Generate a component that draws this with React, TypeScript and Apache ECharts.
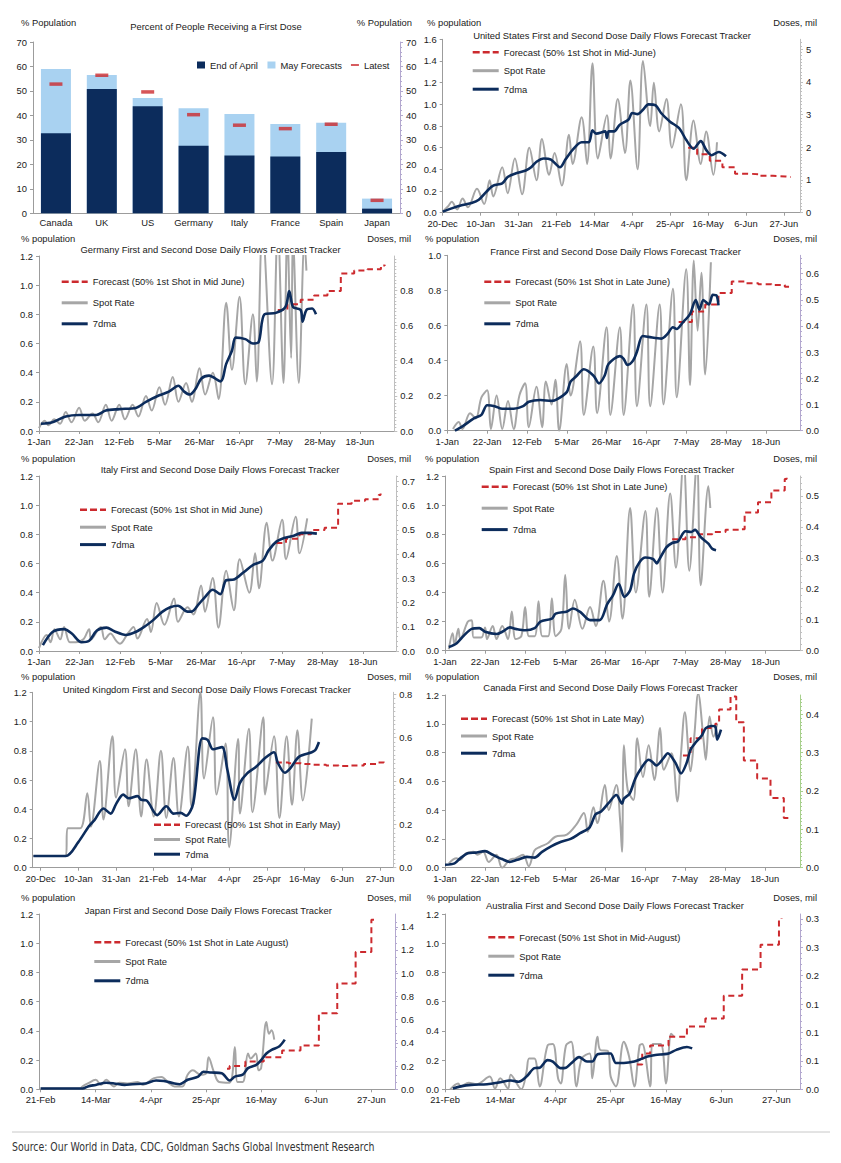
import React, { useEffect, useRef } from "react";
import * as echarts from "echarts";

const FONT = "'Liberation Sans', Arial, Helvetica, sans-serif";
const FS = 9.4;
const TXT = "#1a1a1a";
const NAVY = "#0c2c5c";
const LIGHT = "#a9d2f1";
const RED = "#cc2a2e";
const GRAY = "#a6a6a6";
const AXIS = "#9c9c9c";

// ---------- Bar chart data ----------
const barCountries = ["Canada", "UK", "US", "Germany", "Italy", "France", "Spain", "Japan"];
const barEndOfApril = [32.7, 50.8, 43.7, 27.6, 23.6, 23.2, 25.1, 1.9];
const barMayForecast = [59.0, 56.5, 47.1, 42.9, 40.6, 36.5, 37.0, 6.0];
const barLatest = [52.8, 56.4, 49.6, 40.3, 36.0, 34.6, 36.4, 5.3];

// ---------- Tick labels ----------
const ticksDec20 = ["20-Dec", "10-Jan", "31-Jan", "21-Feb", "14-Mar", "4-Apr", "25-Apr", "16-May", "6-Jun", "27-Jun"];
const ticksJan1 = ["1-Jan", "22-Jan", "12-Feb", "5-Mar", "26-Mar", "16-Apr", "7-May", "28-May", "18-Jun"];
const ticksFeb21 = ["21-Feb", "14-Mar", "4-Apr", "25-Apr", "16-May", "6-Jun", "27-Jun"];

const usRight = [0, 1, 2, 3, 4, 5];
const deRight = [0, 0.2, 0.4, 0.6, 0.8];
const frRight = [0, 0.1, 0.2, 0.3, 0.4, 0.5, 0.6];
const itRight = [0, 0.1, 0.2, 0.3, 0.4, 0.5, 0.6, 0.7];
const esRight = [0, 0.1, 0.2, 0.3, 0.4, 0.5];
const ukRight = [0, 0.2, 0.4, 0.6, 0.8];
const caRight = [0, 0.1, 0.2, 0.3, 0.4];
const jpRight = [0, 0.2, 0.4, 0.6, 0.8, 1.0, 1.2, 1.4];
const auRight = [0, 0.05, 0.1, 0.15, 0.2, 0.25, 0.3];

// ---------- United States (day 0 = 20-Dec) ----------
const usSpot = [[0,0.01],[3,0.06],[5,0.10],[8,0.03],[11,0.13],[14,0.05],[19,0.22],[23,0.08],[26,0.30],[28,0.15],[33,0.42],[36,0.18],[40,0.50],[44,0.17],[48,0.60],[52,0.30],[55,0.68],[59,0.35],[62,0.55],[66,0.25],[70,0.72],[72,0.45],[77,0.88],[80,0.45],[83,1.38],[86,0.50],[91,0.90],[93,0.50],[97,1.05],[101,0.55],[104,1.22],[108,0.40],[111,1.40],[115,0.80],[117,1.20],[120,0.75],[124,1.05],[127,0.60],[132,1.00],[135,0.30],[139,0.85],[143,0.45],[146,0.75],[150,0.35],[152,0.65]];
const usMa = [[0,0.01],[5,0.04],[11,0.07],[16,0.09],[20,0.12],[24,0.19],[28,0.25],[33,0.27],[36,0.33],[40,0.36],[46,0.39],[49,0.42],[52,0.47],[56,0.50],[60,0.49],[65,0.42],[68,0.49],[72,0.58],[77,0.65],[81,0.65],[83,0.76],[85,0.73],[90,0.75],[91,0.69],[92,0.75],[95,0.75],[98,0.81],[103,0.86],[105,0.92],[108,0.91],[111,0.95],[114,1.00],[118,0.99],[121,0.92],[126,0.84],[131,0.78],[135,0.67],[139,0.59],[143,0.66],[146,0.58],[149,0.53],[153,0.56],[157,0.52]];
const usFc = [[136,0.60],[141,0.54],[148,0.48],[155,0.42],[162,0.36],[169,0.355],[176,0.34],[183,0.335],[190,0.33],[193,0.325]];

// ---------- Germany (day 0 = 1-Jan) ----------
const deSpot = [[0,0.02],[3,0.07],[5,0.04],[8,0.08],[11,0.05],[14,0.13],[17,0.06],[21,0.16],[24,0.07],[28,0.12],[31,0.06],[35,0.18],[38,0.07],[42,0.18],[45,0.08],[49,0.18],[52,0.10],[56,0.24],[59,0.14],[63,0.30],[66,0.18],[70,0.37],[73,0.20],[77,0.33],[80,0.20],[84,0.43],[87,0.25],[91,0.40],[94,0.22],[98,0.88],[101,0.42],[105,0.92],[108,0.32],[112,0.80],[114,0.34],[117,1.40],[122,0.32],[125,1.40],[128,0.33],[130,1.35],[132,0.50],[133,1.30],[136,0.33],[139,1.30],[140,1.10]];
const deMa = [[1,0.05],[7,0.06],[14,0.10],[21,0.11],[30,0.11],[35,0.14],[42,0.15],[51,0.16],[56,0.20],[63,0.245],[68,0.27],[73,0.31],[76,0.27],[79,0.25],[82,0.29],[85,0.36],[89,0.38],[95,0.34],[98,0.46],[101,0.55],[103,0.64],[108,0.63],[112,0.60],[115,0.61],[118,0.80],[124,0.81],[129,0.85],[131,0.96],[133,0.85],[137,0.83],[138,0.75],[140,0.83],[143,0.84],[145,0.80]];
const deFc = [[125,0.83],[130,0.87],[137,0.90],[144,0.93],[151,0.96],[158,1.08],[165,1.10],[172,1.11],[179,1.135],[181,1.14]];

// ---------- France ----------
const frSpot = [[3,0.01],[6,0.05],[8,0.01],[12,0.10],[15,0.07],[18,0.19],[21,0.23],[23,0.01],[26,0.20],[29,0.01],[32,0.17],[35,0.01],[38,0.20],[41,0.27],[43,0.02],[47,0.25],[50,0.02],[52,0.28],[55,0.15],[57,0.29],[59,0.00],[63,0.38],[65,0.20],[70,0.51],[72,0.09],[77,0.48],[79,0.10],[84,0.59],[86,0.09],[91,0.59],[93,0.09],[98,0.72],[100,0.14],[105,0.72],[107,0.14],[112,0.72],[114,0.15],[119,0.81],[121,0.19],[126,0.92],[128,0.26],[130,0.97],[132,0.57],[134,0.90],[136,0.32],[139,0.96]];
const frMa = [[4,0.0],[8,0.025],[14,0.07],[18,0.09],[21,0.145],[25,0.14],[29,0.125],[35,0.125],[40,0.14],[43,0.165],[49,0.175],[55,0.17],[58,0.18],[63,0.22],[65,0.28],[68,0.31],[72,0.35],[77,0.315],[80,0.27],[83,0.315],[85,0.38],[91,0.425],[93,0.41],[95,0.375],[98,0.40],[100,0.45],[103,0.54],[106,0.535],[113,0.525],[116,0.55],[119,0.59],[121,0.58],[124,0.615],[128,0.665],[131,0.745],[133,0.69],[135,0.745],[138,0.72],[140,0.775],[142,0.77],[143,0.715]];
const frFc = [[122,0.62],[129,0.68],[136,0.72],[143,0.785],[150,0.85],[157,0.84],[164,0.835],[171,0.83],[178,0.82],[181,0.82]];

// ---------- Italy ----------
const itSpot = [[0,0.02],[4,0.11],[6,0.06],[8,0.15],[11,0.08],[13,0.165],[16,0.06],[19,0.06],[23,0.08],[26,0.15],[27,0.08],[32,0.165],[34,0.08],[37,0.12],[40,0.07],[42,0.05],[46,0.12],[49,0.165],[51,0.085],[56,0.22],[58,0.13],[61,0.33],[65,0.18],[70,0.36],[72,0.20],[77,0.30],[80,0.25],[84,0.45],[86,0.27],[90,0.50],[93,0.16],[97,0.55],[101,0.28],[104,0.63],[109,0.40],[112,0.67],[114,0.43],[118,0.88],[121,0.62],[126,0.90],[128,0.63],[133,0.92],[135,0.67],[139,0.91]];
const itMa = [[2,0.04],[7,0.13],[13,0.15],[17,0.12],[22,0.06],[26,0.07],[30,0.14],[35,0.16],[39,0.135],[45,0.11],[50,0.13],[55,0.17],[59,0.21],[64,0.27],[68,0.30],[72,0.31],[77,0.27],[79,0.27],[83,0.325],[86,0.37],[90,0.42],[94,0.39],[97,0.485],[101,0.49],[106,0.54],[111,0.59],[116,0.62],[119,0.69],[123,0.75],[127,0.775],[132,0.79],[136,0.81],[140,0.81],[144,0.805]];
const itFc = [[123,0.74],[128,0.77],[135,0.80],[141,0.83],[148,0.845],[155,1.01],[162,1.03],[169,1.04],[176,1.07],[177,1.08]];

// ---------- Spain ----------
const esSpot = [[2,0.01],[4,0.12],[5,0.04],[7,0.15],[8,0.08],[12,0.20],[14,0.21],[15,0.09],[19,0.09],[21,0.16],[22,0.08],[25,0.17],[27,0.08],[30,0.17],[33,0.08],[35,0.27],[37,0.08],[40,0.10],[42,0.30],[44,0.10],[47,0.10],[49,0.34],[51,0.10],[54,0.10],[56,0.36],[58,0.10],[61,0.15],[63,0.52],[65,0.15],[68,0.35],[72,0.15],[76,0.30],[79,0.17],[83,0.48],[86,0.20],[90,0.65],[93,0.22],[97,0.98],[100,0.40],[105,0.96],[107,0.37],[111,0.98],[114,0.40],[118,1.08],[121,0.57],[125,1.30],[128,0.55],[132,1.30],[134,0.45],[138,1.13],[139,0.98]];
const esMa = [[2,0.025],[6,0.05],[10,0.105],[14,0.15],[18,0.155],[21,0.13],[27,0.115],[30,0.13],[34,0.16],[37,0.15],[42,0.14],[47,0.155],[50,0.20],[56,0.22],[58,0.255],[64,0.27],[67,0.29],[71,0.265],[76,0.21],[81,0.21],[85,0.32],[88,0.38],[91,0.46],[94,0.37],[97,0.415],[99,0.53],[102,0.61],[105,0.64],[109,0.63],[111,0.60],[112,0.62],[116,0.71],[119,0.74],[122,0.75],[126,0.82],[129,0.815],[131,0.83],[134,0.78],[138,0.735],[140,0.70],[142,0.69]];
const esFc = [[119,0.765],[126,0.78],[133,0.80],[140,0.815],[147,0.83],[154,0.835],[157,0.95],[164,1.02],[171,1.10],[178,1.18],[179,1.19]];

// ---------- United Kingdom (day 0 = 20-Dec) ----------
const ukSpot = [[-4,0.08],[14,0.08],[15,0.27],[22,0.27],[26,0.51],[28,0.28],[33,0.73],[35,0.33],[40,0.90],[42,0.48],[47,0.81],[49,0.42],[53,0.81],[56,0.35],[59,0.74],[63,0.35],[67,0.80],[70,0.34],[74,0.75],[77,0.35],[82,0.83],[84,0.42],[89,1.20],[91,0.61],[96,1.03],[98,0.50],[103,0.85],[105,0.14],[110,0.88],[111,0.37],[116,0.95],[118,0.38],[124,1.03],[125,0.50],[130,0.90],[133,0.34],[137,0.90],[140,0.43],[143,0.94],[146,0.46],[151,1.02]];
const ukMa = [[-4,0.08],[14,0.08],[21,0.175],[27,0.285],[30,0.325],[35,0.405],[39,0.37],[42,0.435],[46,0.50],[49,0.475],[54,0.49],[56,0.465],[59,0.46],[65,0.36],[70,0.42],[74,0.37],[78,0.375],[81,0.355],[85,0.44],[90,0.885],[93,0.875],[96,0.81],[101,0.825],[104,0.67],[108,0.465],[111,0.58],[115,0.645],[120,0.69],[125,0.75],[130,0.79],[132,0.72],[136,0.65],[139,0.68],[144,0.76],[151,0.79],[153,0.805],[155,0.86]];
const ukFc = [[131,0.72],[138,0.715],[145,0.71],[152,0.705],[159,0.70],[166,0.695],[173,0.70],[180,0.71],[187,0.72],[191,0.73]];

// ---------- Canada ----------
const caSpot = [[2,0.03],[6,0.065],[8,0.055],[11,0.10],[15,0.11],[17,0.09],[20,0.11],[23,0.04],[27,0.09],[30,0.00],[34,0.055],[37,0.065],[41,0.09],[44,0.01],[47,0.12],[50,0.145],[54,0.17],[58,0.215],[64,0.23],[69,0.30],[73,0.38],[75,0.25],[78,0.42],[80,0.31],[84,0.575],[86,0.40],[90,0.575],[92,0.33],[93,0.11],[94,0.85],[96,0.54],[99,0.47],[101,0.90],[104,0.63],[107,0.85],[110,0.61],[113,0.97],[115,0.68],[119,0.795],[122,0.46],[124,0.795],[126,1.08],[129,0.67],[131,0.92],[133,1.21],[136,0.865],[137,0.75],[139,1.05],[141,0.91],[143,1.00]];
const caMa = [[0,0.02],[5,0.03],[8,0.065],[12,0.10],[16,0.105],[21,0.115],[25,0.09],[30,0.06],[34,0.04],[38,0.055],[43,0.075],[47,0.07],[51,0.11],[56,0.15],[61,0.18],[66,0.20],[71,0.24],[76,0.28],[79,0.37],[82,0.39],[86,0.45],[90,0.505],[93,0.445],[94,0.48],[97,0.515],[100,0.62],[103,0.69],[107,0.75],[109,0.735],[111,0.71],[115,0.765],[117,0.795],[121,0.73],[124,0.655],[127,0.73],[129,0.82],[132,0.875],[135,0.92],[137,0.97],[140,0.985],[142,0.98],[143,0.89],[145,0.96]];
const caFc = [[125,0.78],[129,0.90],[135,0.97],[142,1.00],[144,1.10],[150,1.19],[153,1.01],[157,0.745],[164,0.62],[171,0.485],[178,0.345],[181,0.345]];

// ---------- Japan (day 0 = 21-Feb) ----------
const jpSpot = [[0,0.005],[15,0.005],[16,0.02],[18,0.04],[21,0.065],[23,0.03],[25,0.065],[28,0.02],[30,0.045],[33,0.04],[37,0.05],[39,0.03],[43,0.075],[46,0.085],[49,0.04],[51,0.02],[54,0.02],[56,0.10],[58,0.13],[61,0.10],[63,0.11],[64,0.22],[66,0.12],[68,0.05],[72,0.045],[74,0.29],[75,0.05],[77,0.05],[79,0.245],[80,0.21],[82,0.245],[83,0.13],[84,0.145],[86,0.46],[87,0.38],[88,0.405],[89,0.34]];
const jpMa = [[0,0.005],[16,0.005],[18,0.02],[21,0.03],[25,0.045],[28,0.04],[32,0.03],[35,0.035],[40,0.04],[44,0.06],[47,0.057],[51,0.04],[53,0.035],[56,0.065],[60,0.087],[62,0.12],[65,0.115],[69,0.11],[72,0.06],[74,0.087],[77,0.10],[79,0.145],[82,0.165],[84,0.20],[86,0.245],[88,0.27],[91,0.295],[93,0.34]];
const jpFc = [[71,0.14],[72,0.16],[78,0.19],[85,0.22],[92,0.265],[99,0.30],[106,0.52],[113,0.725],[120,0.94],[126,1.16],[127,1.17]];

// ---------- Australia (day 0 = 21-Feb) ----------
const auSpot = [[2,0.00],[5,0.04],[6,0.02],[9,0.045],[12,0.035],[17,0.087],[19,0.005],[21,0.075],[24,0.005],[25,0.10],[29,0.00],[31,0.12],[32,0.21],[34,0.21],[36,0.02],[39,0.30],[41,0.31],[43,0.075],[44,0.04],[46,0.30],[48,0.325],[50,0.02],[52,0.21],[55,0.245],[56,0.075],[58,0.36],[59,0.27],[62,0.26],[63,0.087],[65,0.02],[68,0.325],[70,0.225],[72,0.02],[74,0.30],[75,0.31],[78,0.02],[79,0.31],[82,0.31],[84,0.04],[86,0.38],[87,0.36]];
const auMa = [[3,0.005],[6,0.02],[10,0.03],[16,0.035],[21,0.048],[25,0.06],[28,0.052],[31,0.087],[34,0.145],[36,0.148],[39,0.20],[41,0.19],[44,0.145],[46,0.148],[48,0.178],[51,0.22],[54,0.19],[56,0.19],[58,0.24],[61,0.245],[63,0.245],[65,0.18],[68,0.18],[72,0.19],[75,0.21],[77,0.224],[80,0.235],[83,0.24],[85,0.245],[88,0.27],[92,0.29],[94,0.28]];
const auFc = [[73,0.17],[75,0.245],[78,0.30],[85,0.36],[92,0.43],[99,0.485],[106,0.64],[113,0.82],[120,0.99],[127,1.165],[128,1.17]];

const RG = "#bfbfbf";
const RP = "#b3a8cf";
const RGR = "#a8d08d";

const panels = [
  { title: "United States First and Second Dose Daily Flows Forecast Tracker", fcName: "Forecast (50% 1st Shot in Mid-June)", spot: usSpot, ma: usMa, fc: usFc, xLabels: ticksDec20, xMin: 0, xMax: 198, yMax: 1.6, rMax: 5.3, rTicks: usRight, rDec: 0, minor: 10, grid: [442.7, 39.3, 357.3, 173.4], rColor: RG, head: [427, 817, 22.7], tpos: [612, 35], leg: [472.7, 51.7, 17.5] },
  { title: "Germany First and Second Dose Daily Flows Forecast Tracker", fcName: "Forecast (50% 1st Shot in Mid June)", spot: deSpot, ma: deMa, fc: deFc, xLabels: ticksJan1, xMin: 0, xMax: 186, yMax: 1.2, rMax: 0.996, rTicks: deRight, rDec: 1, minor: 10, grid: [39, 256, 355.3, 175], rColor: RG, head: [21, 411, 238.7], tpos: [210.5, 249.3], leg: [61.7, 281.3, 20] },
  { title: "France First and Second Dose Daily Flows Forecast Tracker", fcName: "Forecast (50% 1st Shot in Late June)", spot: frSpot, ma: frMa, fc: frFc, xLabels: ticksJan1, xMin: 0, xMax: 186, yMax: 1.0, rMax: 0.67, rTicks: frRight, rDec: 1, minor: 5, grid: [447.3, 255.3, 352.7, 175.4], rColor: RP, head: [425, 817, 238.7], tpos: [615.5, 251], leg: [484.3, 281.3, 20] },
  { title: "Italy First and Second Dose Daily Flows Forecast Tracker", fcName: "Forecast (50% 1st Shot in Mid June)", spot: itSpot, ma: itMa, fc: itFc, xLabels: ticksJan1, xMin: 0, xMax: 185, yMax: 1.2, rMax: 0.722, rTicks: itRight, rDec: 1, minor: 5, grid: [39, 476, 357, 175], rColor: RG, head: [21, 411, 458], tpos: [220, 469.3], leg: [80, 509.3, 16.4] },
  { title: "Spain First and Second Dose Daily Flows Forecast Tracker", fcName: "Forecast (50% 1st Shot in Late June)", spot: esSpot, ma: esMa, fc: esFc, xLabels: ticksJan1, xMin: 0, xMax: 186, yMax: 1.2, rMax: 0.564, rTicks: esRight, rDec: 1, minor: 5, grid: [445, 476, 355, 174.7], rColor: RG, head: [425, 817, 458], tpos: [611.7, 469.3], leg: [481.7, 486.3, 20.4] },
  { title: "United Kingdom First and Second Dose Daily Flows Forecast Tracker", fcName: "Forecast (50% 1st Shot in Early May)", spot: ukSpot, ma: ukMa, fc: ukFc, xLabels: ticksDec20, xMin: -4.4, xMax: 196.4, yMax: 1.2, rMax: 0.809, rTicks: ukRight, rDec: 1, minor: 10, grid: [32.7, 692.3, 360.6, 175.4], rColor: RG, head: [21, 411, 676.7], tpos: [206.7, 689], leg: [154, 824.3, 13.7] },
  { title: "Canada First and Second Dose Daily Flows Forecast Tracker", fcName: "Forecast (50% 1st Shot in Late May)", spot: caSpot, ma: caMa, fc: caFc, xLabels: ticksJan1, xMin: 0, xMax: 186.5, yMax: 1.2, rMax: 0.45, rTicks: caRight, rDec: 1, minor: 10, grid: [445, 695, 355, 172.7], rColor: RGR, head: [425, 817, 676.7], tpos: [610.5, 687.3], leg: [461, 718.3, 16.2] },
  { title: "Japan First and Second Dose Daily Flows Forecast Tracker", fcName: "Forecast (50% 1st Shot in Late August)", spot: jpSpot, ma: jpMa, fc: jpFc, xLabels: ticksFeb21, xMin: -0.5, xMax: 135, yMax: 1.2, rMax: 1.51, rTicks: jpRight, rDec: 1, minor: 5, grid: [39.3, 914, 355.7, 175.3], rColor: RP, head: [21, 411, 897.7], tpos: [208.3, 910.7], leg: [94.3, 941.7, 18.3] },
  { title: "Australia First and Second Dose Daily Flows Forecast Tracker", fcName: "Forecast (50% 1st Shot in Mid-August)", spot: auSpot, ma: auMa, fc: auFc, xLabels: ticksFeb21, xMin: 0, xMax: 135, yMax: 1.2, rMax: 0.3084, rTicks: auRight, rDec: 1, minor: 5, grid: [445, 914, 355, 175.3], rColor: RP, head: [426.7, 817, 897.7], tpos: [615, 905.7], leg: [488.3, 936.7, 18] },
];

const lab = { fontFamily: FONT, fontSize: FS, color: TXT };
const LINE_ICON = "path://M0,0H26V3H0Z";
const DASH_ICON = "path://M0,0H7V2.4H0Z M10,0H17V2.4H10Z M20,0H26V2.4H20Z";

function txt(x: number, y: number, text: string, align = "left", size = FS, family = FONT, color = TXT, scaleX = 1) {
  return {
    type: "text",
    x,
    y,
    scaleX,
    silent: true,
    style: { text, fill: color, fontSize: size, fontFamily: family, textAlign: align, textVerticalAlign: "middle", align, verticalAlign: "middle" },
  };
}

function buildOption() {
  const grid: any[] = [];
  const xAxis: any[] = [];
  const yAxis: any[] = [];
  const series: any[] = [];
  const legend: any[] = [];
  const graphic: any[] = [];

  // ----- bar chart -----
  grid.push({ left: 33, top: 42, width: 367, height: 171.3 });
  xAxis.push({
    type: "category", gridIndex: 0, data: barCountries,
    axisLine: { lineStyle: { color: AXIS } }, axisTick: { show: false },
    axisLabel: { ...lab, margin: 5, interval: 0 },
  });
  yAxis.push({
    type: "value", gridIndex: 0, position: "left", min: 0, max: 70, interval: 10,
    axisLine: { show: true, lineStyle: { color: AXIS } }, axisTick: { show: true, length: 3, lineStyle: { color: AXIS } },
    splitLine: { show: false }, axisLabel: { ...lab, margin: 6 },
  });
  yAxis.push({
    type: "value", gridIndex: 0, position: "right", min: 0, max: 70, interval: 10,
    axisLine: { show: true, lineStyle: { color: RP } }, axisTick: { show: true, length: 3, lineStyle: { color: RP } },
    minorTick: { show: true, splitNumber: 5, length: 2, lineStyle: { color: RP } },
    splitLine: { show: false }, axisLabel: { ...lab, margin: 6 },
  });
  series.push({ type: "bar", name: "May Forecasts", xAxisIndex: 0, yAxisIndex: 0, data: barMayForecast, barWidth: 30, barGap: "-100%", itemStyle: { color: LIGHT }, z: 1 });
  series.push({ type: "bar", name: "End of April", xAxisIndex: 0, yAxisIndex: 0, data: barEndOfApril, barWidth: 30, barGap: "-100%", itemStyle: { color: NAVY }, z: 2 });
  series.push({ type: "scatter", name: "Latest", xAxisIndex: 0, yAxisIndex: 0, data: barLatest, symbol: "rect", symbolSize: [13, 3.5], itemStyle: { color: RED }, z: 3 });
  legend.push({
    left: 197, top: 60.5, itemWidth: 8, itemHeight: 7, itemGap: 9, padding: 0, selectedMode: false,
    data: [
      { name: "End of April", icon: "rect" },
      { name: "May Forecasts", icon: "rect" },
      { name: "Latest", icon: "path://M0,0H10V2.4H0Z" },
    ],
    textStyle: { ...lab },
  });
  graphic.push(txt(21, 22.7, "% Population"));
  graphic.push(txt(412, 22.7, "% Population", "right"));
  graphic.push(txt(216, 26.7, "Percent of People Receiving a First Dose", "center"));

  // ----- line panels -----
  panels.forEach((p, k) => {
    const gi = k + 1;
    const xVals = p.xLabels.map((_, j) => j * 21);
    grid.push({ left: p.grid[0], top: p.grid[1], width: p.grid[2], height: p.grid[3] });
    xAxis.push({
      type: "value", gridIndex: gi, min: p.xMin, max: p.xMax,
      axisLine: { show: true, onZero: false, lineStyle: { color: AXIS } },
      axisTick: { show: true, length: 3, customValues: xVals, lineStyle: { color: AXIS } },
      axisLabel: {
        ...lab, margin: 6, customValues: xVals,
        formatter: (v: number) => {
          const j = Math.round(v / 21);
          return Math.abs(v - j * 21) < 0.01 ? p.xLabels[j] ?? "" : "";
        },
      },
      splitLine: { show: false },
    });
    const li = yAxis.length;
    yAxis.push({
      type: "value", gridIndex: gi, position: "left", min: 0, max: p.yMax, interval: 0.2,
      axisLine: { show: true, onZero: false, lineStyle: { color: AXIS } },
      axisTick: { show: true, length: 3, lineStyle: { color: AXIS } },
      splitLine: { show: false },
      axisLabel: { ...lab, margin: 6, formatter: (v: number) => v.toFixed(1) },
    });
    yAxis.push({
      type: "value", gridIndex: gi, position: "right", min: 0, max: p.rMax,
      axisLine: { show: true, onZero: false, lineStyle: { color: p.rColor } },
      axisTick: { show: true, length: 3, customValues: p.rTicks, lineStyle: { color: p.rColor } },
      minorTick: { show: true, splitNumber: p.minor, length: 2, lineStyle: { color: p.rColor } },
      splitLine: { show: false },
      axisLabel: { ...lab, margin: 6, customValues: p.rTicks, formatter: (v: number) => v.toFixed(p.rDec) },
    });
    series.push({
      type: "line", name: "Spot Rate", xAxisIndex: gi, yAxisIndex: li, data: p.spot,
      showSymbol: false, symbol: "none", smooth: 0.35,
      lineStyle: { color: GRAY, width: 2 }, itemStyle: { color: GRAY }, z: 2,
    });
    series.push({
      type: "line", name: p.fcName, xAxisIndex: gi, yAxisIndex: li, data: p.fc,
      showSymbol: false, symbol: "none", step: "end",
      lineStyle: { color: RED, width: 2, type: [6, 4] }, itemStyle: { color: RED }, z: 3,
    });
    series.push({
      type: "line", name: "7dma", xAxisIndex: gi, yAxisIndex: li, data: p.ma,
      showSymbol: false, symbol: "none", smooth: 0.3,
      lineStyle: { color: NAVY, width: 2.6 }, itemStyle: { color: NAVY }, z: 4,
    });
    legend.push({
      orient: "vertical", left: p.leg[0], top: p.leg[1] - 4, itemWidth: 26, itemHeight: 8,
      itemGap: p.leg[2] - 8, padding: 0, selectedMode: false,
      data: [
        { name: p.fcName, icon: DASH_ICON },
        { name: "Spot Rate", icon: LINE_ICON },
        { name: "7dma", icon: LINE_ICON },
      ],
      textStyle: { ...lab },
    });
    graphic.push(txt(p.head[0], p.head[2], "% population"));
    graphic.push(txt(p.head[1], p.head[2], "Doses, mil", "right"));
    graphic.push(txt(p.tpos[0], p.tpos[1], p.title, "center"));
  });

  graphic.push({ type: "line", silent: true, shape: { x1: 12, y1: 1132, x2: 830, y2: 1132 }, style: { stroke: "#c8c8c8", lineWidth: 1 } });
  graphic.push(txt(12, 1147, "Source: Our World in Data, CDC, Goldman Sachs Global Investment Research", "left", 12, "'Liberation Sans Narrow', 'DejaVu Sans Condensed', 'Liberation Sans', sans-serif", "#333", 0.87));

  return {
    backgroundColor: "#ffffff",
    animation: false,
    textStyle: { fontFamily: FONT },
    grid, xAxis, yAxis, series, legend, graphic,
  };
}

export default function App() {
  const ref = useRef<HTMLDivElement>(null);
  useEffect(() => {
    document.body.style.margin = "0";
    const chart = echarts.init(ref.current as HTMLDivElement, null, { renderer: "svg" });
    chart.setOption(buildOption() as any);
    return () => chart.dispose();
  }, []);
  return <div ref={ref} style={{ width: 841, height: 1163, background: "#fff" }} />;
}
